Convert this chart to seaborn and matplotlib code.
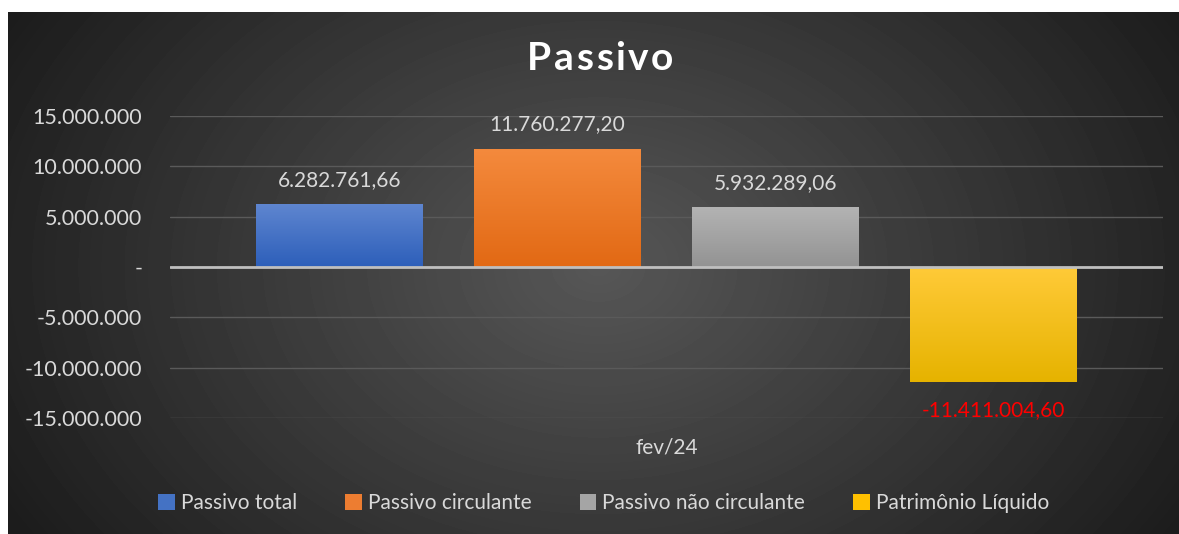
import matplotlib
matplotlib.use("Agg")
import matplotlib.pyplot as plt
from matplotlib.ticker import FuncFormatter
from matplotlib.patches import Patch
import numpy as np
import pandas as pd
import seaborn as sns

# data
periodo = ["fev/24"]
series = ["Passivo total", "Passivo circulante", "Passivo não circulante", "Patrimônio Líquido"]
valores = [6282761.66, 11760277.20, 5932289.06, -11411004.60]
cores_topo = ["#5f86d0", "#f48a3d", "#b3b3b3", "#ffca38"]
cores_base = ["#2d5fba", "#e26914", "#939393", "#e6b300"]
cores = ["#4472c4", "#ed7d31", "#a5a5a5", "#ffc000"]

df = pd.DataFrame({"periodo": periodo * len(series), "serie": series, "valor": valores})

sns.set_theme(style="dark")
plt.rcParams["font.family"] = ["Lato", "DejaVu Sans"]
txt = "#d9d9d9"

fig = plt.figure(figsize=(11.79, 5.34), dpi=100, facecolor="white")

# radial gradient background
bg = fig.add_axes([8 / 1179, 0, 1171 / 1179, 522 / 534], zorder=0)
yy, xx = np.mgrid[0:522, 0:1171]
r = np.sqrt(((xx - 590) / 680.0) ** 2 + ((yy - 255) / 500.0) ** 2)
shade = np.clip(0.34 - 0.23 * r, 0.11, 0.34)
bg.imshow(shade, cmap="gray", vmin=0, vmax=1, aspect="auto", interpolation="bilinear")
bg.set_axis_off()

ax = fig.add_axes([170 / 1179, 116 / 534, 993 / 1179, 302 / 534], zorder=1)
ax.patch.set_alpha(0)

sns.barplot(data=df, x="periodo", y="valor", hue="serie", hue_order=series,
            palette=cores, width=0.878, gap=0.234, ax=ax, legend=False,
            saturation=1, edgecolor="none")

# vertical gradient inside every bar
for p, c1, c2 in zip(ax.patches, cores_topo, cores_base):
    x0, y0 = p.get_x(), p.get_y()
    w, h = p.get_width(), p.get_height()
    top, bot = max(y0, y0 + h), min(y0, y0 + h)
    grad = np.linspace(0, 1, 64).reshape(-1, 1)
    cmap = matplotlib.colors.LinearSegmentedColormap.from_list("g", [c1, c2])
    im = ax.imshow(grad, cmap=cmap, aspect="auto", extent=(x0, x0 + w, bot, top),
                   origin="upper", zorder=2)
    im.set_clip_path(p)

ax.set_xlim(-0.5, 0.5)
ax.set_ylim(-15000000, 15000000)
ax.set_yticks(np.arange(-15000000, 15000001, 5000000))


def fmt(v, pos):
    if v == 0:
        return "-"
    return f"{int(v):,}".replace(",", ".")


ax.yaxis.set_major_formatter(FuncFormatter(fmt))
ax.grid(axis="y", color="#5a5a5a", lw=1)
ax.grid(axis="x", visible=False)
ax.axhline(0, color="#bfbfbf", lw=2, zorder=3)
for s in ax.spines.values():
    s.set_visible(False)
ax.tick_params(axis="y", colors=txt, labelsize=15.5, pad=20, length=0)
ax.tick_params(axis="x", colors=txt, labelsize=15, pad=14, length=0)
ax.set_xlabel("")
ax.set_ylabel("")

# data labels
for p, v in zip(ax.patches, valores):
    cx = p.get_x() + p.get_width() / 2
    lab = f"{v:,.2f}".replace(",", "X").replace(".", ",").replace("X", ".")
    if v >= 0:
        ax.text(cx, v + 1400000, lab, ha="center", va="bottom", color=txt, fontsize=15)
    else:
        ax.text(cx, v - 1800000, lab, ha="center", va="top", color="#ff0000", fontsize=15)

# title with a bit of letter spacing
titulo = "Passivo"
fig.canvas.draw()
ren = fig.canvas.get_renderer()
larg = []
for ch in titulo:
    t = fig.text(0, 0, ch, fontsize=28, fontweight="bold")
    larg.append(t.get_window_extent(ren).width)
    t.remove()
esp = 2.6
total = sum(larg) + esp * (len(titulo) - 1)
x = 600 - total / 2
for ch, wd in zip(titulo, larg):
    fig.text(x / 1179, 1 - 58 / 534, ch, ha="left", va="center", color="white",
             fontsize=28, fontweight="bold")
    x += wd + esp

handles = [Patch(facecolor=c, edgecolor="none") for c in cores]
fig.legend(handles, series, loc="center", bbox_to_anchor=(0.512, 0.058), ncol=4,
           frameon=False, fontsize=15, labelcolor=txt, handlelength=0.8,
           handleheight=0.8, handletextpad=0.3, columnspacing=2.3)

fig.savefig("out.png", dpi=100, facecolor="white")
